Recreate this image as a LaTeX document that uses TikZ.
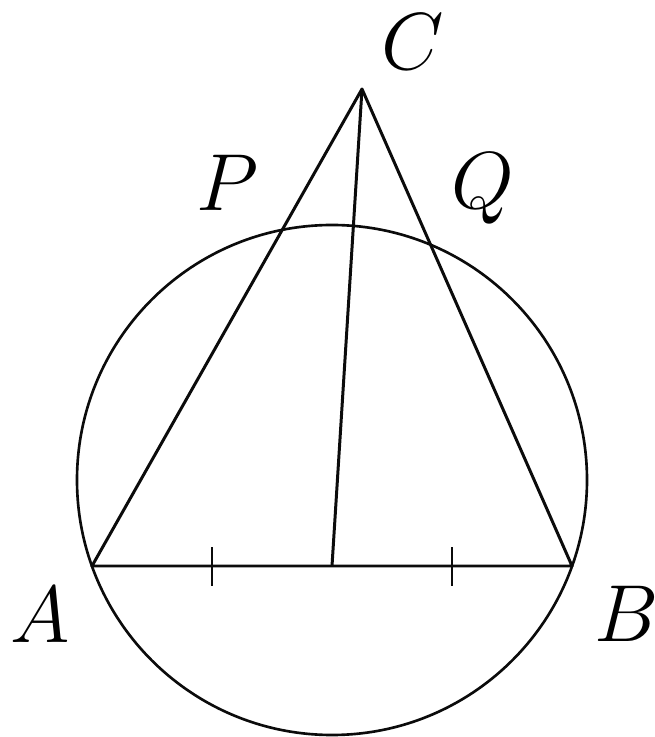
\documentclass[tikz,border=0pt]{standalone}
\usepackage{graphicx}
\usepackage{tikz}
\usetikzlibrary{calc}
\definecolor{ink}{HTML}{0B0B0B}

\newcommand{\ptname}[1]{\scalebox{1.85}{$#1$}}

\tikzset{
  figline/.style={ink,line width=1.7pt,line join=round},
  ptlabel/.style={inner sep=0pt,font=\Huge}
}

\begin{document}
\begin{tikzpicture}[x=0.02cm,y=0.02cm]
      \useasboundingbox (0,0) rectangle (655,737);
      \coordinate (A) at (92,171);
      \coordinate (B) at (572,171);
      \coordinate (C) at (362,648);
      \coordinate (M) at ($(A)!0.5!(B)$);
      \coordinate (O) at (332,257);
      \draw[figline,line width=1.5pt] (O) circle (255);
      \draw[figline] (A) -- (C) -- (B) -- cycle;
      \draw[figline] (C) -- (M);
      \draw[figline,line width=1.4pt] ($(A)!0.5!(M)$) +(0,-20) -- +(0,19);
      \draw[figline,line width=1.4pt] ($(M)!0.5!(B)$) +(0,-20) -- +(0,19);
      \node[ptlabel] (lA) at (40,122) {\ptname{A}};
      \node[ptlabel] (lB) at (627,123) {\ptname{B}};
      \node[ptlabel] (lC) at (413,695) {\ptname{C}};
      \node[ptlabel] (lP) at (228,554) {\ptname{P}};
      \node[ptlabel] (lQ) at (483,548) {\ptname{Q}};
    \end{tikzpicture}
\end{document}
